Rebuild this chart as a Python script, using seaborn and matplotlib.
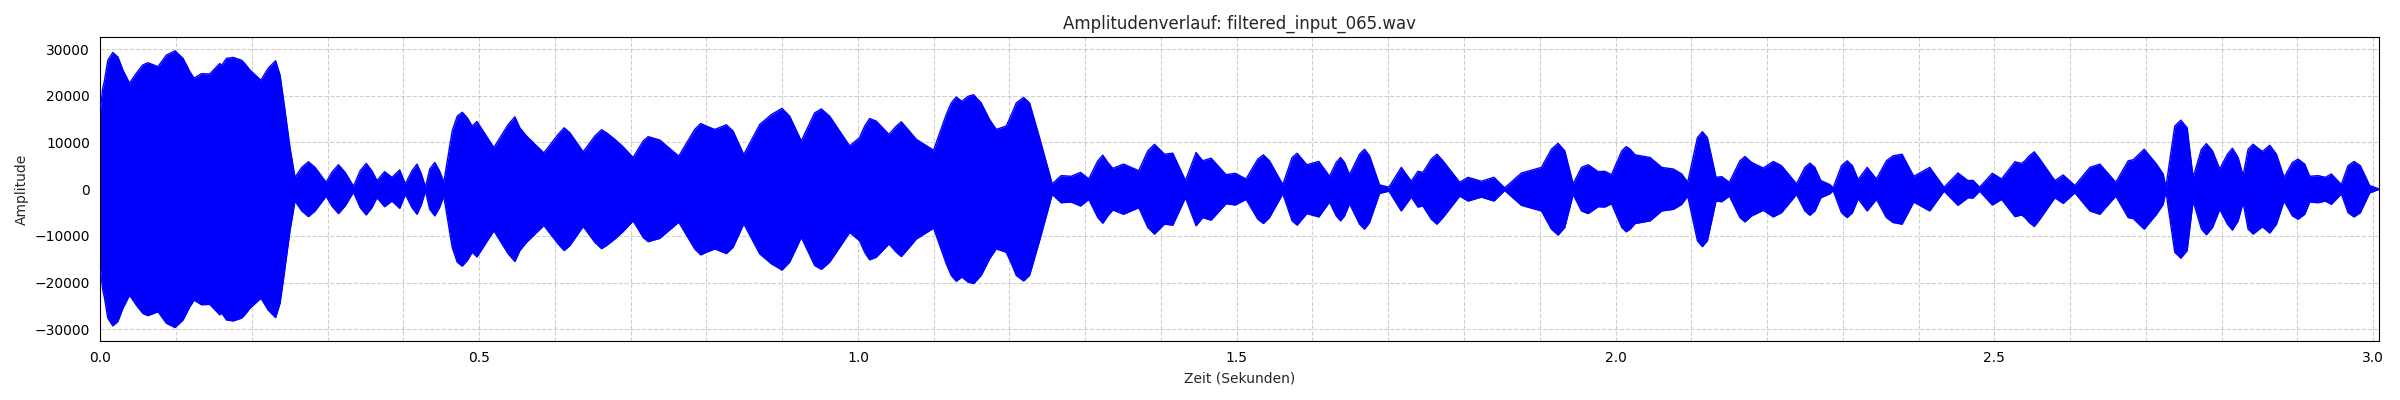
import matplotlib
matplotlib.use("Agg")
import matplotlib.pyplot as plt
from matplotlib.ticker import MultipleLocator
import seaborn as sns
import pandas as pd

# Envelope of the waveform (time in s, peak amplitude)
# turning points (peaks and dips)
time_s = [
    0.000, 0.005, 0.0163, 0.0384, 0.0627, 0.0759, 0.0984, 0.1236, 0.1333, 0.1443,
    0.1600, 0.1752, 0.1900, 0.2118, 0.2312, 0.2414, 0.2502, 0.2568, 0.2745, 0.2979,
    0.3142, 0.334, 0.3508, 0.365, 0.3751, 0.3848, 0.395, 0.4025, 0.4179, 0.429,
    0.4413, 0.4532, 0.4643, 0.4775, 0.4907, 0.4970, 0.5193, 0.5471, 0.5624, 0.5853,
    0.6121, 0.6372, 0.6614, 0.679, 0.69, 0.7032, 0.723, 0.7383, 0.7634, 0.7924,
    0.8109, 0.8263, 0.8492, 0.8703, 0.8997, 0.9252, 0.9516, 0.989, 1.002, 1.0154,
    1.0242, 1.0409, 1.0572, 1.077, 1.0998, 1.1165, 1.1297, 1.1372, 1.1526, 1.1825,
    1.1957, 1.2186, 1.2397, 1.2564, 1.2682, 1.2814, 1.2938, 1.3047, 1.3232, 1.3364,
    1.3505, 1.3707, 1.3914, 1.4046, 1.4156, 1.4323, 1.4463, 1.4551, 1.4661, 1.4859,
    1.4980, 1.5123, 1.5352, 1.5608, 1.5797, 1.5925, 1.6084, 1.6225, 1.637, 1.6489,
    1.6687, 1.6885, 1.7009, 1.7172, 1.7304, 1.7392, 1.7458, 1.7643, 1.7943, 1.8053,
    1.8229, 1.8396, 1.8537, 1.8758, 1.9022, 1.9242, 1.9441, 1.9639, 1.9771, 1.9859,
    1.9947, 2.0141, 2.0259, 2.0457, 2.0611, 2.0765, 2.0874, 2.0953, 2.1147, 2.1327,
    2.1402, 2.1503, 2.1709, 2.1951, 2.2083, 2.2192, 2.239, 2.2566, 2.2711, 2.283,
    2.2873, 2.3058, 2.3203, 2.3322, 2.3445, 2.3664, 2.3783, 2.3937, 2.4148, 2.4337,
    2.4521, 2.4653, 2.4720, 2.4807, 2.4974, 2.5097, 2.5273, 2.5361, 2.5405, 2.5528,
    2.58, 2.591, 2.6064, 2.6262, 2.6394, 2.6605, 2.6768, 2.6834, 2.6979, 2.7142,
    2.723, 2.7265, 2.7463, 2.7625, 2.7801, 2.7977, 2.8144, 2.8285, 2.8417, 2.854,
    2.8637, 2.8826, 2.9011, 2.9164, 2.9274, 2.937, 2.945, 2.9582, 2.9749, 2.9956,
    3.0075,
]
peak_amp = [
    17400, 23000, 29260, 22690, 27070, 26220, 29610, 23750, 24730, 24660,
    26500, 28200, 27000, 23320, 27490, 19500, 8900, 2540, 5870, 1480,
    5230, 640, 5510, 1840, 3750, 2540, 4100, 1130, 5370, 420,
    5720, 1480, 12440, 16470, 13500, 14500, 8900, 15480, 11380, 7770,
    13140, 7990, 12720, 10670, 9050, 6780, 11240, 10530, 7070, 14060,
    12790, 13780, 7420, 13850, 17310, 10320, 17170, 9260, 11020, 15120,
    14560, 11730, 14420, 10670, 8340, 15970, 19720, 18800, 20210, 12790,
    13500, 19650, 11020, 1130, 2900, 2760, 3600, 2190, 7280, 4450,
    5370, 3960, 9610, 7490, 7700, 1840, 7840, 6080, 6640, 3110,
    3390, 2190, 7350, 990, 7700, 5230, 5940, 2760, 6780, 3110,
    8550, 920, 420, 4660, 1700, 3820, 3600, 7490, 1480, 2540,
    1700, 2540, 280, 3460, 4660, 9820, 1130, 5230, 3750, 3820,
    3110, 9120, 7350, 6780, 4660, 4310, 3250, 1480, 12300, 2540,
    2690, 1480, 7000, 4520, 5940, 5020, 1130, 5580, 1840, 990,
    280, 6080, 2050, 4660, 2190, 7140, 7490, 2760, 4660, 420,
    3460, 1840, 1900, 420, 3390, 2190, 5870, 5510, 6080, 7990,
    1840, 3040, 780, 4660, 5370, 1480, 6080, 6290, 8550, 5370,
    3250, 420, 14770, 2540, 9750, 4310, 8760, 2900, 9610, 8060,
    9400, 2540, 6430, 2760, 2900, 2540, 3250, 990, 5940, 780,
    70,
]

# additional points read on the flanks of the lobes
flank_time_s = [
    0.003, 0.0097, 0.023, 0.0296, 0.0472, 0.056, 0.087, 0.109, 0.1178, 0.1575,
    0.1664, 0.1862, 0.1973, 0.2215, 0.237, 0.2657, 0.2833, 0.3054, 0.323, 0.3429,
    0.3583, 0.4113, 0.4237, 0.4347, 0.4475, 0.4709, 0.4841,
    0.5383, 0.5536, 0.6042, 0.6196, 0.6526, 0.668, 0.7164, 0.7845, 0.7999,
    0.8351, 0.8857, 0.9098, 0.9428, 0.9626, 0.9758,
    1.0088, 1.0506, 1.066, 1.1231, 1.1451, 1.1627, 1.1737, 1.2045, 1.2089, 1.2265,
    1.3166, 1.3298, 1.3826, 1.398,
    1.5278, 1.5432, 1.5731, 1.6313, 1.6423, 1.6621, 1.6753, 1.7568, 1.7722, 1.9154,
    1.933, 1.9551,
    2.0083, 2.0193, 2.1081, 2.1213, 2.1643, 2.1797, 2.25, 2.2632, 2.2983, 2.3128,
    2.3576,
    2.5462, 2.5602, 2.6328, 2.7383, 2.7546, 2.7735, 2.7881, 2.8078, 2.8219, 2.8351,
    2.8725, 2.8936, 2.9098, 2.967, 2.9833,
]
flank_amp = [
    21600, 27600, 28300, 25500, 24800, 26600, 28700, 28000, 25200, 26900,
    28000, 27600, 25500, 25900, 24450, 4660, 4660, 3600, 3600, 3960,
    3960, 3960, 3250, 4310, 3960, 15600, 15300,
    13850, 13140, 11730, 12080, 11380, 12080, 10320, 12790, 13500,
    12440, 15970, 15620, 16330, 15620, 12440,
    13500, 13500, 12790, 18450, 19860, 18450, 14910, 16680, 18450, 18450,
    6080, 5720, 8200, 8550,
    6430, 6080, 6780, 5720, 5720, 7490, 7140, 6430, 6080, 8550,
    8200, 4660,
    8200, 8550, 11020, 11020, 6080, 5720, 4660, 4660, 5020, 5020,
    6080,
    7140, 6430, 5020, 13500, 13140, 8550, 8200, 7490, 6780, 8550,
    7490, 5720, 5370, 5020, 5020,
]

title = "Amplitudenverlauf: filtered_input_065.wav"
x_label = "Zeit (Sekunden)"
y_label = "Amplitude"

df = pd.concat([
    pd.DataFrame({"t": time_s, "upper": peak_amp}),
    pd.DataFrame({"t": flank_time_s, "upper": flank_amp}),
]).sort_values("t").reset_index(drop=True)
df["lower"] = -df["upper"]

sns.set_style("white")
plt.rcParams["font.family"] = ["DejaVu Sans"]

fig, ax = plt.subplots(figsize=(24, 4), dpi=100)
ax.fill_between(df["t"], df["lower"], df["upper"], color="blue", linewidth=0, zorder=2)
sns.lineplot(data=df, x="t", y="upper", color="blue", linewidth=1.0, ax=ax, zorder=3, sort=False)
sns.lineplot(data=df, x="t", y="lower", color="blue", linewidth=1.0, ax=ax, zorder=3, sort=False)

ax.set_xlim(0, df["t"].iloc[-1])
ax.set_ylim(-32500, 32500)
ax.xaxis.set_major_locator(MultipleLocator(0.5))
ax.xaxis.set_minor_locator(MultipleLocator(0.1))
ax.yaxis.set_major_locator(MultipleLocator(10000))
ax.tick_params(axis="both", which="both", direction="out", length=4, width=0.8, colors="black", labelsize=10)
ax.tick_params(axis="x", which="minor", length=2)
ax.grid(True, which="both", linestyle="--", color="#b0b0b0", alpha=0.6, linewidth=0.8, zorder=0)
for s in ax.spines.values():
    s.set_visible(True)
    s.set_color("black")
    s.set_linewidth(0.8)

ax.set_title(title, fontsize=12)
ax.set_xlabel(x_label, fontsize=10)
ax.set_ylabel(y_label, fontsize=10)

fig.tight_layout()
fig.savefig("out.png", dpi=100, facecolor="white")
